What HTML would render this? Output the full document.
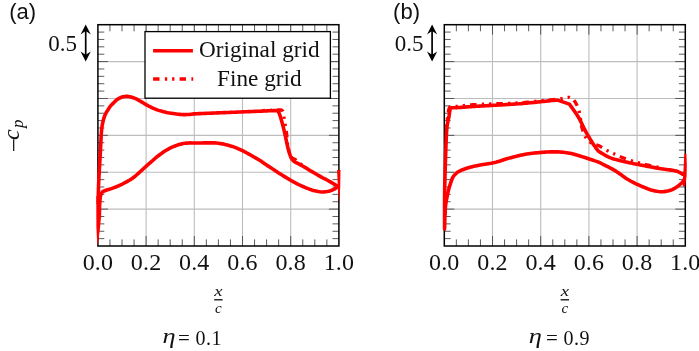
<!DOCTYPE html>
<html><head><meta charset="utf-8"><title>Cp</title>
<style>
html,body{margin:0;padding:0;background:#fff;}
svg{display:block;will-change:transform}
.g{stroke:#bdbdbd;stroke-width:1.1}
.t{stroke:#4a4a4a;stroke-width:0.9}
.f{fill:none;stroke:#000;stroke-width:1.5}
.c{fill:none;stroke:#ff0000;stroke-width:3.6;stroke-linejoin:round;stroke-linecap:butt}
.d{fill:none;stroke:#ff0000;stroke-width:3.3;stroke-dasharray:6.5 5.2 2.3 5 2.3 5}
text{font-family:"Liberation Serif",serif;fill:#111}
.s{font-family:"Liberation Sans",sans-serif}
.i{font-style:italic}
</style></head><body>
<svg width="699" height="351" viewBox="0 0 699 351">
<rect width="699" height="351" fill="#fff"/>
<!-- plot a -->
<line x1="146.10" y1="24.7" x2="146.10" y2="246.0" class="g"/>
<line x1="194.30" y1="24.7" x2="194.30" y2="246.0" class="g"/>
<line x1="242.50" y1="24.7" x2="242.50" y2="246.0" class="g"/>
<line x1="290.70" y1="24.7" x2="290.70" y2="246.0" class="g"/>
<line x1="97.9" y1="61.58" x2="338.9" y2="61.58" class="g"/>
<line x1="97.9" y1="98.47" x2="338.9" y2="98.47" class="g"/>
<line x1="97.9" y1="135.35" x2="338.9" y2="135.35" class="g"/>
<line x1="97.9" y1="172.23" x2="338.9" y2="172.23" class="g"/>
<line x1="97.9" y1="209.12" x2="338.9" y2="209.12" class="g"/>
<line x1="109.95" y1="246.0" x2="109.95" y2="239.4" class="t"/>
<line x1="109.95" y1="24.7" x2="109.95" y2="31.299999999999997" class="t"/>
<line x1="122.00" y1="246.0" x2="122.00" y2="239.4" class="t"/>
<line x1="122.00" y1="24.7" x2="122.00" y2="31.299999999999997" class="t"/>
<line x1="134.05" y1="246.0" x2="134.05" y2="239.4" class="t"/>
<line x1="134.05" y1="24.7" x2="134.05" y2="31.299999999999997" class="t"/>
<line x1="146.10" y1="246.0" x2="146.10" y2="236.0" class="t"/>
<line x1="146.10" y1="24.7" x2="146.10" y2="34.7" class="t"/>
<line x1="158.15" y1="246.0" x2="158.15" y2="239.4" class="t"/>
<line x1="158.15" y1="24.7" x2="158.15" y2="31.299999999999997" class="t"/>
<line x1="170.20" y1="246.0" x2="170.20" y2="239.4" class="t"/>
<line x1="170.20" y1="24.7" x2="170.20" y2="31.299999999999997" class="t"/>
<line x1="182.25" y1="246.0" x2="182.25" y2="239.4" class="t"/>
<line x1="182.25" y1="24.7" x2="182.25" y2="31.299999999999997" class="t"/>
<line x1="194.30" y1="246.0" x2="194.30" y2="236.0" class="t"/>
<line x1="194.30" y1="24.7" x2="194.30" y2="34.7" class="t"/>
<line x1="206.35" y1="246.0" x2="206.35" y2="239.4" class="t"/>
<line x1="206.35" y1="24.7" x2="206.35" y2="31.299999999999997" class="t"/>
<line x1="218.40" y1="246.0" x2="218.40" y2="239.4" class="t"/>
<line x1="218.40" y1="24.7" x2="218.40" y2="31.299999999999997" class="t"/>
<line x1="230.45" y1="246.0" x2="230.45" y2="239.4" class="t"/>
<line x1="230.45" y1="24.7" x2="230.45" y2="31.299999999999997" class="t"/>
<line x1="242.50" y1="246.0" x2="242.50" y2="236.0" class="t"/>
<line x1="242.50" y1="24.7" x2="242.50" y2="34.7" class="t"/>
<line x1="254.55" y1="246.0" x2="254.55" y2="239.4" class="t"/>
<line x1="254.55" y1="24.7" x2="254.55" y2="31.299999999999997" class="t"/>
<line x1="266.60" y1="246.0" x2="266.60" y2="239.4" class="t"/>
<line x1="266.60" y1="24.7" x2="266.60" y2="31.299999999999997" class="t"/>
<line x1="278.65" y1="246.0" x2="278.65" y2="239.4" class="t"/>
<line x1="278.65" y1="24.7" x2="278.65" y2="31.299999999999997" class="t"/>
<line x1="290.70" y1="246.0" x2="290.70" y2="236.0" class="t"/>
<line x1="290.70" y1="24.7" x2="290.70" y2="34.7" class="t"/>
<line x1="302.75" y1="246.0" x2="302.75" y2="239.4" class="t"/>
<line x1="302.75" y1="24.7" x2="302.75" y2="31.299999999999997" class="t"/>
<line x1="314.80" y1="246.0" x2="314.80" y2="239.4" class="t"/>
<line x1="314.80" y1="24.7" x2="314.80" y2="31.299999999999997" class="t"/>
<line x1="326.85" y1="246.0" x2="326.85" y2="239.4" class="t"/>
<line x1="326.85" y1="24.7" x2="326.85" y2="31.299999999999997" class="t"/>
<line x1="97.9" y1="32.08" x2="104.30000000000001" y2="32.08" class="t"/>
<line x1="338.9" y1="32.08" x2="332.5" y2="32.08" class="t"/>
<line x1="97.9" y1="39.45" x2="104.30000000000001" y2="39.45" class="t"/>
<line x1="338.9" y1="39.45" x2="332.5" y2="39.45" class="t"/>
<line x1="97.9" y1="46.83" x2="104.30000000000001" y2="46.83" class="t"/>
<line x1="338.9" y1="46.83" x2="332.5" y2="46.83" class="t"/>
<line x1="97.9" y1="54.21" x2="104.30000000000001" y2="54.21" class="t"/>
<line x1="338.9" y1="54.21" x2="332.5" y2="54.21" class="t"/>
<line x1="97.9" y1="61.58" x2="107.9" y2="61.58" class="t"/>
<line x1="338.9" y1="61.58" x2="328.9" y2="61.58" class="t"/>
<line x1="97.9" y1="68.96" x2="104.30000000000001" y2="68.96" class="t"/>
<line x1="338.9" y1="68.96" x2="332.5" y2="68.96" class="t"/>
<line x1="97.9" y1="76.34" x2="104.30000000000001" y2="76.34" class="t"/>
<line x1="338.9" y1="76.34" x2="332.5" y2="76.34" class="t"/>
<line x1="97.9" y1="83.71" x2="104.30000000000001" y2="83.71" class="t"/>
<line x1="338.9" y1="83.71" x2="332.5" y2="83.71" class="t"/>
<line x1="97.9" y1="91.09" x2="104.30000000000001" y2="91.09" class="t"/>
<line x1="338.9" y1="91.09" x2="332.5" y2="91.09" class="t"/>
<line x1="97.9" y1="98.47" x2="107.9" y2="98.47" class="t"/>
<line x1="338.9" y1="98.47" x2="328.9" y2="98.47" class="t"/>
<line x1="97.9" y1="105.84" x2="104.30000000000001" y2="105.84" class="t"/>
<line x1="338.9" y1="105.84" x2="332.5" y2="105.84" class="t"/>
<line x1="97.9" y1="113.22" x2="104.30000000000001" y2="113.22" class="t"/>
<line x1="338.9" y1="113.22" x2="332.5" y2="113.22" class="t"/>
<line x1="97.9" y1="120.60" x2="104.30000000000001" y2="120.60" class="t"/>
<line x1="338.9" y1="120.60" x2="332.5" y2="120.60" class="t"/>
<line x1="97.9" y1="127.97" x2="104.30000000000001" y2="127.97" class="t"/>
<line x1="338.9" y1="127.97" x2="332.5" y2="127.97" class="t"/>
<line x1="97.9" y1="135.35" x2="107.9" y2="135.35" class="t"/>
<line x1="338.9" y1="135.35" x2="328.9" y2="135.35" class="t"/>
<line x1="97.9" y1="142.73" x2="104.30000000000001" y2="142.73" class="t"/>
<line x1="338.9" y1="142.73" x2="332.5" y2="142.73" class="t"/>
<line x1="97.9" y1="150.10" x2="104.30000000000001" y2="150.10" class="t"/>
<line x1="338.9" y1="150.10" x2="332.5" y2="150.10" class="t"/>
<line x1="97.9" y1="157.48" x2="104.30000000000001" y2="157.48" class="t"/>
<line x1="338.9" y1="157.48" x2="332.5" y2="157.48" class="t"/>
<line x1="97.9" y1="164.86" x2="104.30000000000001" y2="164.86" class="t"/>
<line x1="338.9" y1="164.86" x2="332.5" y2="164.86" class="t"/>
<line x1="97.9" y1="172.23" x2="107.9" y2="172.23" class="t"/>
<line x1="338.9" y1="172.23" x2="328.9" y2="172.23" class="t"/>
<line x1="97.9" y1="179.61" x2="104.30000000000001" y2="179.61" class="t"/>
<line x1="338.9" y1="179.61" x2="332.5" y2="179.61" class="t"/>
<line x1="97.9" y1="186.99" x2="104.30000000000001" y2="186.99" class="t"/>
<line x1="338.9" y1="186.99" x2="332.5" y2="186.99" class="t"/>
<line x1="97.9" y1="194.36" x2="104.30000000000001" y2="194.36" class="t"/>
<line x1="338.9" y1="194.36" x2="332.5" y2="194.36" class="t"/>
<line x1="97.9" y1="201.74" x2="104.30000000000001" y2="201.74" class="t"/>
<line x1="338.9" y1="201.74" x2="332.5" y2="201.74" class="t"/>
<line x1="97.9" y1="209.12" x2="107.9" y2="209.12" class="t"/>
<line x1="338.9" y1="209.12" x2="328.9" y2="209.12" class="t"/>
<line x1="97.9" y1="216.49" x2="104.30000000000001" y2="216.49" class="t"/>
<line x1="338.9" y1="216.49" x2="332.5" y2="216.49" class="t"/>
<line x1="97.9" y1="223.87" x2="104.30000000000001" y2="223.87" class="t"/>
<line x1="338.9" y1="223.87" x2="332.5" y2="223.87" class="t"/>
<line x1="97.9" y1="231.25" x2="104.30000000000001" y2="231.25" class="t"/>
<line x1="338.9" y1="231.25" x2="332.5" y2="231.25" class="t"/>
<line x1="97.9" y1="238.62" x2="104.30000000000001" y2="238.62" class="t"/>
<line x1="338.9" y1="238.62" x2="332.5" y2="238.62" class="t"/>
<rect x="97.9" y="24.7" width="240.99999999999997" height="221.3" class="f"/>
<polyline class="c" points="98.2,204.0 98.21,203.09 98.21,201.89 98.22,200.44 98.23,198.78 98.26,196.95 98.3,195.0 98.33,193.79 98.36,192.54 98.39,191.26 98.43,189.91 98.47,188.5 98.52,187.01 98.57,185.42 98.64,183.74 98.71,181.93 98.8,180.0 98.86,178.71 98.93,177.35 99.01,175.93 99.09,174.45 99.17,172.93 99.26,171.36 99.35,169.75 99.44,168.12 99.54,166.48 99.64,164.81 99.73,163.15 99.83,161.48 99.92,159.83 100.02,158.19 100.11,156.58 100.2,155.0 100.29,153.41 100.37,151.77 100.46,150.1 100.54,148.4 100.62,146.68 100.71,144.97 100.79,143.26 100.88,141.56 100.96,139.9 101.05,138.28 101.13,136.7 101.22,135.2 101.31,133.76 101.41,132.41 101.5,131.15 101.6,130.0 101.87,127.42 102.16,125.41 102.46,123.81 102.76,122.48 103.08,121.26 103.4,120.0 103.9,118.17 104.41,116.62 104.95,115.27 105.5,114.0 106.27,112.52 107.07,111.26 107.9,110.0 108.73,108.63 109.59,107.27 110.5,106.0 112.03,104.38 113.6,102.9 115.02,101.39 116.5,100.0 118.24,98.84 120.0,97.9 121.5,97.25 123.0,96.8 124.72,96.45 126.5,96.3 128.11,96.41 130.0,96.8 131.79,97.28 133.82,97.91 135.7,98.6 137.17,99.31 138.49,100.09 140.0,101.0 141.43,101.85 143.02,102.82 144.6,103.78 146.0,104.6 147.42,105.39 148.61,106.02 150.0,106.7 151.29,107.33 152.71,108.01 154.19,108.68 155.7,109.3 157.19,109.85 158.71,110.35 160.29,110.83 162.0,111.3 163.44,111.68 164.91,112.05 166.47,112.42 168.16,112.77 170.0,113.1 171.47,113.33 173.09,113.57 174.79,113.81 176.53,114.03 178.25,114.22 179.89,114.38 181.4,114.5 183.37,114.58 185.26,114.59 187.03,114.54 188.62,114.47 190.0,114.4 191.54,114.19 194.0,113.9 195.04,113.84 196.17,113.78 197.4,113.72 198.75,113.66 200.22,113.6 201.84,113.53 203.62,113.46 205.56,113.38 207.68,113.3 210.0,113.2 211.2,113.15 212.51,113.1 213.9,113.04 215.37,112.98 216.9,112.92 218.49,112.85 220.13,112.79 221.81,112.72 223.51,112.65 225.24,112.58 226.96,112.52 228.69,112.45 230.4,112.38 232.09,112.31 233.74,112.25 235.35,112.18 236.91,112.12 238.4,112.06 239.82,112.0 241.16,111.95 242.4,111.9 244.57,111.81 246.55,111.73 248.36,111.66 250.03,111.6 251.59,111.54 253.06,111.48 254.47,111.42 255.84,111.37 257.2,111.31 258.58,111.26 260.0,111.2 261.79,111.13 263.61,111.05 265.42,110.97 267.19,110.89 268.88,110.81 270.47,110.74 271.92,110.68 273.21,110.64 274.3,110.6 276.84,110.61 277.6,110.7 277.6,110.7 278.29,111.58 279.3,113.5 279.76,114.76 280.26,116.28 280.79,118.01 281.34,119.9 281.9,121.9 282.26,123.21 282.62,124.6 283.0,126.05 283.38,127.56 283.76,129.1 284.14,130.68 284.52,132.28 284.9,133.9 285.23,135.39 285.57,136.95 285.9,138.56 286.23,140.19 286.57,141.82 286.9,143.42 287.23,144.97 287.57,146.44 287.9,147.8 288.4,149.7 288.89,151.49 289.39,153.16 289.89,154.69 290.39,156.07 290.9,157.3 292.07,159.25 293.26,160.61 294.1,161.5 294.1,161.5 295.13,162.04 296.61,162.8 298.3,163.69 300.0,164.6 301.41,165.38 302.96,166.24 304.5,167.11 305.93,167.92 307.1,168.6 308.28,169.39 310.0,170.5 311.06,171.13 312.39,171.91 313.91,172.79 315.53,173.74 317.18,174.69 318.76,175.6 320.19,176.42 321.4,177.1 323.14,178.04 324.37,178.65 325.52,179.21 327.0,180.0 328.34,180.75 329.9,181.64 331.54,182.59 333.14,183.51 334.57,184.34 335.7,185.0 337.54,186.06 338.3,186.5"/>
<polyline class="c" points="99.4,205.0 99.46,203.81 99.6,202.0 99.79,200.43 100.03,198.63 100.3,197.0 100.74,195.06 101.3,193.5 102.16,192.28 102.9,191.5 102.9,191.5 104.11,191.01 106.0,190.3 107.51,189.83 109.28,189.31 111.4,188.6 112.69,188.12 114.16,187.56 115.73,186.96 117.28,186.34 118.74,185.74 120.0,185.2 121.88,184.31 123.36,183.51 125.0,182.6 126.52,181.79 128.16,180.92 129.82,179.99 131.4,179.0 132.8,178.02 134.09,177.03 135.47,175.9 137.1,174.5 138.09,173.63 139.21,172.62 140.42,171.52 141.66,170.39 142.88,169.26 144.04,168.19 145.1,167.22 146.0,166.4 147.66,164.93 148.77,163.96 150.0,162.9 151.18,161.85 152.44,160.73 153.73,159.59 155.0,158.5 156.25,157.46 157.5,156.44 158.75,155.46 160.0,154.5 161.25,153.57 162.5,152.67 163.75,151.81 165.0,151.0 166.67,149.99 168.33,149.06 170.0,148.2 171.67,147.4 173.33,146.67 175.0,146.0 176.67,145.37 178.33,144.8 180.0,144.3 181.67,143.89 183.33,143.56 185.0,143.3 186.69,143.1 188.39,142.97 190.0,142.9 191.79,142.93 194.3,143.0 195.5,143.0 196.93,142.98 198.51,142.97 200.18,142.95 201.86,142.93 203.49,142.91 205.0,142.9 206.67,142.89 208.34,142.87 209.96,142.86 211.52,142.85 212.97,142.86 214.3,142.9 216.52,143.05 218.34,143.26 220.0,143.5 222.21,143.86 224.3,144.3 225.81,144.66 227.37,145.06 229.0,145.5 230.62,145.93 232.3,146.4 234.3,147.1 235.73,147.67 237.3,148.34 238.96,149.08 240.68,149.87 242.4,150.7 243.85,151.43 245.35,152.2 246.87,153.01 248.4,153.84 249.91,154.67 251.4,155.5 252.91,156.34 254.46,157.23 255.99,158.11 257.47,158.97 258.82,159.78 260.0,160.5 261.7,161.62 262.92,162.52 264.3,163.5 265.56,164.33 266.88,165.18 268.34,166.12 270.0,167.2 271.22,168.01 272.5,168.87 273.86,169.79 275.31,170.77 276.89,171.81 278.6,172.9 279.86,173.69 281.24,174.56 282.71,175.47 284.23,176.4 285.77,177.34 287.29,178.27 288.76,179.15 290.14,179.97 291.4,180.7 293.06,181.64 294.53,182.46 295.88,183.17 297.19,183.84 298.53,184.51 300.0,185.2 301.39,185.84 302.87,186.49 304.4,187.15 305.92,187.79 307.39,188.39 308.77,188.93 310.0,189.4 311.83,190.02 313.38,190.47 314.73,190.8 316.0,191.1 318.12,191.55 320.0,191.8 321.96,191.94 324.0,191.9 325.51,191.74 327.1,191.5 328.6,191.2 330.64,190.67 332.5,190.0 334.2,189.17 335.7,188.2 337.05,186.89 338,185.8"/>
<polyline class="d" stroke-dashoffset="11.19" points="262.0,110.6 263.1,110.56 264.67,110.5 266.49,110.43 268.34,110.36 270.0,110.3 271.89,110.22 273.75,110.13 275.48,110.05 277.0,110.0 279.33,109.92 281.0,110.0 282.06,110.38 282.7,111.0 283.1,111.67 283.4,113.0 283.61,114.27 283.83,115.89 284.06,117.63 284.3,119.3 284.54,120.87 284.79,122.45 285.05,124.0 285.3,125.5 285.65,127.37 286.0,129.16 286.3,131.0 286.48,132.46 286.63,133.97 286.77,135.49 286.9,137.0 287.02,138.51 287.13,140.03 287.25,141.54 287.4,143.0 287.61,144.77 287.86,146.48 288.3,148.5 288.72,150.09 289.24,151.94 289.81,153.82 290.38,155.52 290.9,156.8 291.96,158.1 293.0,158.5 294.23,158.99 295.5,159.6 296.59,160.82 298.0,162.3 299.67,163.45 301.61,164.65 303,165.5"/>
<polygon fill="#f00" points="96.4,196 101.4,196 101.3,210 101.1,216 100.1,227 98.7,238.5 97.7,244.6 97.2,244.6 96.9,238.5 96.4,227 96.3,210"/>
<polygon fill="#f00" points="337.1,170 340.5,170 340.2,188 339.2,203 337.9,190"/>
<!-- legend -->
<rect x="145" y="31.6" width="185.4" height="66.6" fill="#fff" stroke="#000" stroke-width="1.3"/>
<line x1="153.1" y1="50.7" x2="192.9" y2="50.7" stroke="#f00" stroke-width="3.5"/>
<line x1="153.1" y1="79" x2="193.2" y2="79" stroke="#f00" stroke-width="3.5" stroke-dasharray="6.4 5.4 2.3 4.9 2.3 5.2"/>
<text id="lg1" x="259.3" y="56.8" font-size="23.2" text-anchor="middle">Original grid</text>
<text id="lg2" x="259.3" y="85.8" font-size="23.2" text-anchor="middle">Fine grid</text>
<!-- plot b -->
<line x1="492.50" y1="24.7" x2="492.50" y2="246.0" class="g"/>
<line x1="540.70" y1="24.7" x2="540.70" y2="246.0" class="g"/>
<line x1="588.90" y1="24.7" x2="588.90" y2="246.0" class="g"/>
<line x1="637.10" y1="24.7" x2="637.10" y2="246.0" class="g"/>
<line x1="444.3" y1="61.58" x2="685.3" y2="61.58" class="g"/>
<line x1="444.3" y1="98.47" x2="685.3" y2="98.47" class="g"/>
<line x1="444.3" y1="135.35" x2="685.3" y2="135.35" class="g"/>
<line x1="444.3" y1="172.23" x2="685.3" y2="172.23" class="g"/>
<line x1="444.3" y1="209.12" x2="685.3" y2="209.12" class="g"/>
<line x1="456.35" y1="246.0" x2="456.35" y2="239.4" class="t"/>
<line x1="456.35" y1="24.7" x2="456.35" y2="31.299999999999997" class="t"/>
<line x1="468.40" y1="246.0" x2="468.40" y2="239.4" class="t"/>
<line x1="468.40" y1="24.7" x2="468.40" y2="31.299999999999997" class="t"/>
<line x1="480.45" y1="246.0" x2="480.45" y2="239.4" class="t"/>
<line x1="480.45" y1="24.7" x2="480.45" y2="31.299999999999997" class="t"/>
<line x1="492.50" y1="246.0" x2="492.50" y2="236.0" class="t"/>
<line x1="492.50" y1="24.7" x2="492.50" y2="34.7" class="t"/>
<line x1="504.55" y1="246.0" x2="504.55" y2="239.4" class="t"/>
<line x1="504.55" y1="24.7" x2="504.55" y2="31.299999999999997" class="t"/>
<line x1="516.60" y1="246.0" x2="516.60" y2="239.4" class="t"/>
<line x1="516.60" y1="24.7" x2="516.60" y2="31.299999999999997" class="t"/>
<line x1="528.65" y1="246.0" x2="528.65" y2="239.4" class="t"/>
<line x1="528.65" y1="24.7" x2="528.65" y2="31.299999999999997" class="t"/>
<line x1="540.70" y1="246.0" x2="540.70" y2="236.0" class="t"/>
<line x1="540.70" y1="24.7" x2="540.70" y2="34.7" class="t"/>
<line x1="552.75" y1="246.0" x2="552.75" y2="239.4" class="t"/>
<line x1="552.75" y1="24.7" x2="552.75" y2="31.299999999999997" class="t"/>
<line x1="564.80" y1="246.0" x2="564.80" y2="239.4" class="t"/>
<line x1="564.80" y1="24.7" x2="564.80" y2="31.299999999999997" class="t"/>
<line x1="576.85" y1="246.0" x2="576.85" y2="239.4" class="t"/>
<line x1="576.85" y1="24.7" x2="576.85" y2="31.299999999999997" class="t"/>
<line x1="588.90" y1="246.0" x2="588.90" y2="236.0" class="t"/>
<line x1="588.90" y1="24.7" x2="588.90" y2="34.7" class="t"/>
<line x1="600.95" y1="246.0" x2="600.95" y2="239.4" class="t"/>
<line x1="600.95" y1="24.7" x2="600.95" y2="31.299999999999997" class="t"/>
<line x1="613.00" y1="246.0" x2="613.00" y2="239.4" class="t"/>
<line x1="613.00" y1="24.7" x2="613.00" y2="31.299999999999997" class="t"/>
<line x1="625.05" y1="246.0" x2="625.05" y2="239.4" class="t"/>
<line x1="625.05" y1="24.7" x2="625.05" y2="31.299999999999997" class="t"/>
<line x1="637.10" y1="246.0" x2="637.10" y2="236.0" class="t"/>
<line x1="637.10" y1="24.7" x2="637.10" y2="34.7" class="t"/>
<line x1="649.15" y1="246.0" x2="649.15" y2="239.4" class="t"/>
<line x1="649.15" y1="24.7" x2="649.15" y2="31.299999999999997" class="t"/>
<line x1="661.20" y1="246.0" x2="661.20" y2="239.4" class="t"/>
<line x1="661.20" y1="24.7" x2="661.20" y2="31.299999999999997" class="t"/>
<line x1="673.25" y1="246.0" x2="673.25" y2="239.4" class="t"/>
<line x1="673.25" y1="24.7" x2="673.25" y2="31.299999999999997" class="t"/>
<line x1="444.3" y1="32.08" x2="450.7" y2="32.08" class="t"/>
<line x1="685.3" y1="32.08" x2="678.9" y2="32.08" class="t"/>
<line x1="444.3" y1="39.45" x2="450.7" y2="39.45" class="t"/>
<line x1="685.3" y1="39.45" x2="678.9" y2="39.45" class="t"/>
<line x1="444.3" y1="46.83" x2="450.7" y2="46.83" class="t"/>
<line x1="685.3" y1="46.83" x2="678.9" y2="46.83" class="t"/>
<line x1="444.3" y1="54.21" x2="450.7" y2="54.21" class="t"/>
<line x1="685.3" y1="54.21" x2="678.9" y2="54.21" class="t"/>
<line x1="444.3" y1="61.58" x2="454.3" y2="61.58" class="t"/>
<line x1="685.3" y1="61.58" x2="675.3" y2="61.58" class="t"/>
<line x1="444.3" y1="68.96" x2="450.7" y2="68.96" class="t"/>
<line x1="685.3" y1="68.96" x2="678.9" y2="68.96" class="t"/>
<line x1="444.3" y1="76.34" x2="450.7" y2="76.34" class="t"/>
<line x1="685.3" y1="76.34" x2="678.9" y2="76.34" class="t"/>
<line x1="444.3" y1="83.71" x2="450.7" y2="83.71" class="t"/>
<line x1="685.3" y1="83.71" x2="678.9" y2="83.71" class="t"/>
<line x1="444.3" y1="91.09" x2="450.7" y2="91.09" class="t"/>
<line x1="685.3" y1="91.09" x2="678.9" y2="91.09" class="t"/>
<line x1="444.3" y1="98.47" x2="454.3" y2="98.47" class="t"/>
<line x1="685.3" y1="98.47" x2="675.3" y2="98.47" class="t"/>
<line x1="444.3" y1="105.84" x2="450.7" y2="105.84" class="t"/>
<line x1="685.3" y1="105.84" x2="678.9" y2="105.84" class="t"/>
<line x1="444.3" y1="113.22" x2="450.7" y2="113.22" class="t"/>
<line x1="685.3" y1="113.22" x2="678.9" y2="113.22" class="t"/>
<line x1="444.3" y1="120.60" x2="450.7" y2="120.60" class="t"/>
<line x1="685.3" y1="120.60" x2="678.9" y2="120.60" class="t"/>
<line x1="444.3" y1="127.97" x2="450.7" y2="127.97" class="t"/>
<line x1="685.3" y1="127.97" x2="678.9" y2="127.97" class="t"/>
<line x1="444.3" y1="135.35" x2="454.3" y2="135.35" class="t"/>
<line x1="685.3" y1="135.35" x2="675.3" y2="135.35" class="t"/>
<line x1="444.3" y1="142.73" x2="450.7" y2="142.73" class="t"/>
<line x1="685.3" y1="142.73" x2="678.9" y2="142.73" class="t"/>
<line x1="444.3" y1="150.10" x2="450.7" y2="150.10" class="t"/>
<line x1="685.3" y1="150.10" x2="678.9" y2="150.10" class="t"/>
<line x1="444.3" y1="157.48" x2="450.7" y2="157.48" class="t"/>
<line x1="685.3" y1="157.48" x2="678.9" y2="157.48" class="t"/>
<line x1="444.3" y1="164.86" x2="450.7" y2="164.86" class="t"/>
<line x1="685.3" y1="164.86" x2="678.9" y2="164.86" class="t"/>
<line x1="444.3" y1="172.23" x2="454.3" y2="172.23" class="t"/>
<line x1="685.3" y1="172.23" x2="675.3" y2="172.23" class="t"/>
<line x1="444.3" y1="179.61" x2="450.7" y2="179.61" class="t"/>
<line x1="685.3" y1="179.61" x2="678.9" y2="179.61" class="t"/>
<line x1="444.3" y1="186.99" x2="450.7" y2="186.99" class="t"/>
<line x1="685.3" y1="186.99" x2="678.9" y2="186.99" class="t"/>
<line x1="444.3" y1="194.36" x2="450.7" y2="194.36" class="t"/>
<line x1="685.3" y1="194.36" x2="678.9" y2="194.36" class="t"/>
<line x1="444.3" y1="201.74" x2="450.7" y2="201.74" class="t"/>
<line x1="685.3" y1="201.74" x2="678.9" y2="201.74" class="t"/>
<line x1="444.3" y1="209.12" x2="454.3" y2="209.12" class="t"/>
<line x1="685.3" y1="209.12" x2="675.3" y2="209.12" class="t"/>
<line x1="444.3" y1="216.49" x2="450.7" y2="216.49" class="t"/>
<line x1="685.3" y1="216.49" x2="678.9" y2="216.49" class="t"/>
<line x1="444.3" y1="223.87" x2="450.7" y2="223.87" class="t"/>
<line x1="685.3" y1="223.87" x2="678.9" y2="223.87" class="t"/>
<line x1="444.3" y1="231.25" x2="450.7" y2="231.25" class="t"/>
<line x1="685.3" y1="231.25" x2="678.9" y2="231.25" class="t"/>
<line x1="444.3" y1="238.62" x2="450.7" y2="238.62" class="t"/>
<line x1="685.3" y1="238.62" x2="678.9" y2="238.62" class="t"/>
<rect x="444.3" y="24.7" width="240.99999999999994" height="221.3" class="f"/>
<polyline class="c" points="444.6,229.5 444.6,228.63 444.6,227.59 444.6,226.39 444.59,225.06 444.59,223.6 444.59,222.04 444.59,220.39 444.58,218.67 444.58,216.9 444.58,215.09 444.58,213.26 444.58,211.43 444.58,209.62 444.58,207.84 444.58,206.1 444.58,204.44 444.59,202.85 444.59,201.37 444.6,200.0 444.61,198.18 444.62,196.5 444.64,194.94 444.65,193.47 444.67,192.07 444.68,190.71 444.7,189.36 444.73,187.99 444.75,186.58 444.78,185.1 444.82,183.53 444.86,181.84 444.9,180.0 444.93,178.71 444.97,177.36 445.0,175.95 445.04,174.48 445.08,172.97 445.13,171.42 445.17,169.84 445.22,168.24 445.26,166.62 445.31,165.0 445.36,163.38 445.41,161.76 445.46,160.16 445.51,158.58 445.56,157.03 445.61,155.52 445.66,154.05 445.71,152.64 445.75,151.29 445.8,150.0 445.87,148.1 445.94,146.25 446.0,144.46 446.07,142.72 446.14,141.03 446.2,139.41 446.27,137.85 446.34,136.36 446.41,134.94 446.48,133.59 446.55,132.32 446.62,131.12 446.7,130.0 446.91,127.58 447.13,125.79 447.35,124.41 447.58,123.22 447.8,122.0 448.18,120.11 448.56,118.56 448.9,117.0 449.16,115.29 449.38,113.57 449.6,112.0 449.99,109.84 450.3,108.3 450.3,108.3 450.84,108.06 452.0,107.8 453.33,107.72 455.02,107.68 457.0,107.6 458.26,107.53 459.57,107.44 461.02,107.34 462.67,107.23 464.6,107.1 465.99,107.01 467.52,106.9 469.16,106.79 470.88,106.67 472.65,106.55 474.44,106.43 476.24,106.31 478.0,106.2 479.51,106.11 480.96,106.03 482.39,105.95 483.83,105.87 485.31,105.79 486.88,105.71 488.56,105.62 490.39,105.51 492.4,105.4 493.75,105.32 495.24,105.23 496.84,105.14 498.54,105.04 500.3,104.94 502.11,104.83 503.93,104.72 505.74,104.62 507.52,104.51 509.23,104.41 510.86,104.31 512.37,104.22 513.75,104.14 514.97,104.06 516.0,104.0 518.96,103.82 520.2,103.7 521.5,103.59 523.02,103.45 524.69,103.3 526.46,103.14 528.25,102.97 530.0,102.8 531.49,102.65 533.03,102.5 534.6,102.34 536.17,102.17 537.72,102.01 539.24,101.85 540.7,101.7 542.35,101.52 543.97,101.34 545.55,101.17 547.09,101.0 548.57,100.84 550.0,100.7 551.74,100.54 553.49,100.4 555.13,100.28 556.51,100.18 557.5,100.1 557.5,100.1 569.4,104.1 569.4,104.1 569.96,104.89 570.69,105.92 571.57,107.15 572.55,108.52 573.59,109.99 574.67,111.52 575.73,113.06 576.75,114.56 577.69,115.99 578.5,117.3 579.38,118.83 580.19,120.36 580.94,121.86 581.64,123.32 582.3,124.75 582.94,126.13 583.57,127.45 584.2,128.7 585.01,130.22 585.74,131.58 586.45,132.84 587.16,134.08 587.89,135.34 588.7,136.7 589.47,137.97 590.29,139.33 591.14,140.72 592.01,142.1 592.85,143.44 593.66,144.68 594.4,145.8 595.63,147.54 596.81,149.07 597.8,150.32 598.5,151.2 598.5,151.2 599.32,151.69 600.41,152.36 601.71,153.16 603.15,154.04 604.68,154.94 606.24,155.82 607.77,156.62 609.2,157.3 610.73,157.93 612.2,158.46 613.68,158.94 615.19,159.37 616.78,159.79 618.51,160.23 620.4,160.7 621.7,161.02 623.07,161.34 624.5,161.67 625.97,161.99 627.49,162.32 629.04,162.65 630.63,162.98 632.23,163.31 633.85,163.64 635.47,163.97 637.1,164.3 638.6,164.6 640.14,164.91 641.7,165.22 643.28,165.53 644.87,165.84 646.48,166.15 648.1,166.46 649.71,166.76 651.32,167.06 652.93,167.35 654.52,167.63 656.1,167.9 657.71,168.17 659.39,168.43 661.11,168.69 662.86,168.94 664.6,169.19 666.32,169.43 667.98,169.67 669.57,169.89 671.06,170.11 672.43,170.32 673.65,170.51 674.7,170.7 677.24,171.29 678.2,171.74 679.0,172.2 680.58,173.02 681.9,173.8 683.23,174.5 684.2,175"/>
<polyline class="c" points="444.9,215.0 444.97,213.87 445.07,212.27 445.18,210.4 445.31,208.44 445.45,206.57 445.6,205.0 445.82,203.23 446.06,201.8 446.34,200.37 446.7,198.6 447.0,197.13 447.33,195.48 447.69,193.74 448.08,191.96 448.49,190.23 448.9,188.6 449.35,187.03 449.83,185.44 450.34,183.89 450.83,182.44 451.3,181.12 451.7,180.0 452.55,177.86 453.3,176.5 454.26,175.26 455.3,174.2 456.36,173.17 457.6,172.2 459.22,171.26 461.0,170.4 462.61,169.71 464.6,169.0 465.97,168.54 467.53,168.02 469.23,167.49 471.0,167.0 472.39,166.65 473.78,166.33 475.26,166.01 476.94,165.67 478.9,165.3 480.19,165.07 481.64,164.82 483.2,164.57 484.84,164.3 486.5,164.03 488.13,163.77 489.69,163.5 491.13,163.25 492.4,163.0 494.3,162.59 495.87,162.2 497.26,161.81 498.59,161.42 500.0,161.0 501.5,160.54 503.0,160.04 504.49,159.54 505.96,159.05 507.4,158.6 509.15,158.11 510.85,157.66 512.55,157.24 514.3,156.8 515.76,156.43 517.25,156.05 518.75,155.68 520.24,155.32 521.7,155.0 523.45,154.65 525.15,154.34 526.85,154.06 528.6,153.8 530.48,153.54 532.44,153.3 534.33,153.08 536.0,152.9 537.6,152.74 538.89,152.63 540.7,152.5 541.96,152.4 543.38,152.29 544.93,152.16 546.57,152.05 548.28,151.96 550.0,151.9 551.53,151.88 553.14,151.86 554.81,151.86 556.5,151.88 558.18,151.92 559.83,152.0 561.4,152.1 563.16,152.26 564.89,152.47 566.58,152.71 568.22,152.99 569.83,153.28 571.4,153.6 573.21,154.02 574.94,154.48 576.63,154.97 578.3,155.48 580.0,156.0 581.41,156.44 582.8,156.88 584.19,157.33 585.6,157.8 587.06,158.29 588.6,158.8 590.05,159.28 591.63,159.79 593.27,160.33 594.9,160.87 596.45,161.39 597.84,161.87 599.0,162.3 600.95,163.19 602.9,164.3 604.08,164.89 605.51,165.6 607.1,166.39 608.76,167.22 610.41,168.06 611.95,168.86 613.3,169.6 614.86,170.52 616.2,171.38 617.43,172.22 618.66,173.08 620.0,174.0 621.19,174.83 622.4,175.71 623.62,176.61 624.89,177.52 626.21,178.42 627.6,179.3 628.84,180.03 630.11,180.75 631.41,181.46 632.76,182.17 634.16,182.88 635.6,183.59 637.1,184.3 638.51,184.95 640.04,185.63 641.65,186.32 643.27,187.01 644.86,187.67 646.38,188.29 647.78,188.84 649.0,189.3 650.93,189.96 652.41,190.36 653.68,190.64 655.0,190.9 656.86,191.27 658.64,191.54 660.4,191.7 662.13,191.71 663.83,191.6 665.5,191.4 667.2,191.11 668.87,190.73 670.4,190.3 672.28,189.57 674.0,188.7 675.84,187.6 677.6,186.4 679.14,185.18 680.5,184.0 681.63,183.06 682.6,182.1 683.53,180.68 684.2,179.5"/>
<polyline class="d" stroke-dashoffset="8.77" points="446.0,130.0 446.12,129.05 446.27,127.76 446.46,126.23 446.67,124.53 446.89,122.77 447.1,121.04 447.31,119.41 447.5,118.0 447.77,115.98 448.04,114.06 448.3,112.31 448.55,110.77 448.8,109.5 449.36,107.68 450.0,106.9 450.57,106.67 452.0,106.7 453.18,106.63 454.67,106.56 456.37,106.47 458.18,106.36 460.0,106.2 461.41,106.03 462.73,105.81 464.1,105.58 465.67,105.34 467.59,105.11 470.0,104.9 471.21,104.82 472.5,104.74 473.89,104.67 475.34,104.6 476.87,104.52 478.46,104.46 480.1,104.39 481.79,104.32 483.51,104.25 485.26,104.18 487.03,104.12 488.82,104.05 490.61,103.97 492.4,103.9 493.81,103.84 495.28,103.79 496.78,103.73 498.32,103.68 499.88,103.63 501.47,103.57 503.07,103.52 504.69,103.47 506.31,103.41 507.92,103.36 509.53,103.3 511.12,103.24 512.69,103.17 514.23,103.11 515.74,103.04 517.21,102.96 518.63,102.88 520.0,102.8 521.85,102.67 523.68,102.53 525.48,102.38 527.25,102.21 528.98,102.04 530.67,101.87 532.3,101.69 533.88,101.52 535.4,101.36 536.84,101.2 538.21,101.05 539.5,100.92 540.7,100.8 542.9,100.6 544.62,100.46 546.02,100.35 547.27,100.25 548.54,100.14 550.0,100.0 551.68,99.82 553.47,99.62 555.27,99.41 557.01,99.2 558.61,98.99 560.0,98.8 562.1,98.43 563.65,98.09 565.0,97.8 566.74,97.45 568.2,97.3 569.62,97.42 571.0,97.9 572.41,98.79 573.9,100.3 574.75,101.47 575.66,102.89 576.54,104.42 577.3,105.9 577.89,107.25 578.38,108.58 578.8,109.98 579.2,111.6 579.51,113.12 579.8,114.8 580.07,116.57 580.33,118.33 580.6,120.0 580.83,121.55 581.03,123.03 581.23,124.49 581.51,126.0 581.9,127.6 582.33,129.07 582.83,130.66 583.39,132.29 583.99,133.89 584.63,135.39 585.3,136.7 586.4,138.36 587.61,139.77 588.84,140.97 590.0,142.0 591.35,143.02 592.62,143.7 594.0,144.3 595.44,144.72 596.99,145.06 599.0,145.8 600.31,146.48 601.81,147.33 603.44,148.29 605.09,149.28 606.67,150.21 608.1,151.0 609.59,151.76 610.93,152.41 612.2,152.99 613.5,153.57 614.9,154.2 616.39,154.88 617.92,155.58 619.5,156.29 621.15,157.0 622.9,157.7 624.25,158.21 625.7,158.75 627.2,159.28 628.71,159.81 630.2,160.32 631.61,160.78 632.9,161.2 634.81,161.77 636.45,162.21 638.09,162.62 640.0,163.1 641.5,163.49 643.12,163.91 644.82,164.34 646.56,164.78 648.3,165.21 650.0,165.6 651.78,165.99 653.7,166.38 655.62,166.76 657.41,167.1 658.91,167.39 660,167.6"/>
<polygon fill="#f00" points="443.2,196 447.6,196 446.6,215 445.9,230.7 443.3,230.7"/>
<polygon fill="#f00" points="684.4,153.8 686.4,153.8 686.8,165 686.6,176 685.8,182 685,186.5 682.8,186.5 683,178 683.6,168 684,160"/>
<text class="tl" x="97.9" y="270.4" font-size="24" letter-spacing="0.15" text-anchor="middle">0.0</text>
<text class="tl" x="146.1" y="270.4" font-size="24" letter-spacing="0.15" text-anchor="middle">0.2</text>
<text class="tl" x="194.3" y="270.4" font-size="24" letter-spacing="0.15" text-anchor="middle">0.4</text>
<text class="tl" x="242.5" y="270.4" font-size="24" letter-spacing="0.15" text-anchor="middle">0.6</text>
<text class="tl" x="290.7" y="270.4" font-size="24" letter-spacing="0.15" text-anchor="middle">0.8</text>
<text class="tl" x="338.9" y="270.4" font-size="24" letter-spacing="0.15" text-anchor="middle">1.0</text>
<text class="i" transform="translate(218.4,295.8) scale(1.25,1)" font-size="15" text-anchor="middle">x</text>
<line x1="214.2" y1="299.8" x2="222.6" y2="299.8" stroke="#000" stroke-width="1.25"/>
<text class="i" x="218.4" y="313.4" font-size="15" text-anchor="middle">c</text>
<text x="48.3" y="50.9" font-size="23">0.5</text>
<line x1="85.7" y1="28" x2="85.7" y2="58" stroke="#000" stroke-width="1.7"/>
<path d="M0,0 L5.1,10 L0.85,7.2 L-0.85,7.2 L-5.1,10 Z" transform="translate(85.7,24.4)"/>
<path d="M0,0 L5.1,10 L0.85,7.2 L-0.85,7.2 L-5.1,10 Z" transform="translate(85.7,61.4) scale(1,-1)"/>
<text class="tl" x="444.3" y="270.4" font-size="24" letter-spacing="0.15" text-anchor="middle">0.0</text>
<text class="tl" x="492.5" y="270.4" font-size="24" letter-spacing="0.15" text-anchor="middle">0.2</text>
<text class="tl" x="540.7" y="270.4" font-size="24" letter-spacing="0.15" text-anchor="middle">0.4</text>
<text class="tl" x="588.9" y="270.4" font-size="24" letter-spacing="0.15" text-anchor="middle">0.6</text>
<text class="tl" x="637.1" y="270.4" font-size="24" letter-spacing="0.15" text-anchor="middle">0.8</text>
<text class="tl" x="685.3" y="270.4" font-size="24" letter-spacing="0.15" text-anchor="middle">1.0</text>
<text class="i" transform="translate(564.8,295.8) scale(1.25,1)" font-size="15" text-anchor="middle">x</text>
<line x1="560.6" y1="299.8" x2="569.0" y2="299.8" stroke="#000" stroke-width="1.25"/>
<text class="i" x="564.8" y="313.4" font-size="15" text-anchor="middle">c</text>
<text x="394.7" y="50.9" font-size="23">0.5</text>
<line x1="432.1" y1="28" x2="432.1" y2="58" stroke="#000" stroke-width="1.7"/>
<path d="M0,0 L5.1,10 L0.85,7.2 L-0.85,7.2 L-5.1,10 Z" transform="translate(432.1,24.4)"/>
<path d="M0,0 L5.1,10 L0.85,7.2 L-0.85,7.2 L-5.1,10 Z" transform="translate(432.1,61.4) scale(1,-1)"/>
<text class="s" x="9.2" y="18.6" font-size="22" fill="#000">(a)</text>
<text class="s" x="393.1" y="18.6" font-size="22" fill="#000">(b)</text>
<g transform="rotate(-90)">
<text x="-152.3" y="21.6" font-size="25">−</text>
<text class="i" x="-139.9" y="19.2" font-size="24">c</text>
<text class="i" x="-128" y="23.3" font-size="17">p</text>
</g>
<text class="i" transform="translate(162.6,342.9) scale(1.2,1)" font-size="22">η</text>
<text x="178.1" y="344.8" font-size="21">=</text>
<text x="195.5" y="344.8" font-size="20" letter-spacing="0.5">0.1</text>
<text class="i" transform="translate(528.8,342.9) scale(1.2,1)" font-size="22">η</text>
<text x="545.9" y="344.8" font-size="21">=</text>
<text x="563.5" y="344.8" font-size="20" letter-spacing="0.5">0.9</text>
</svg>
</body></html>
